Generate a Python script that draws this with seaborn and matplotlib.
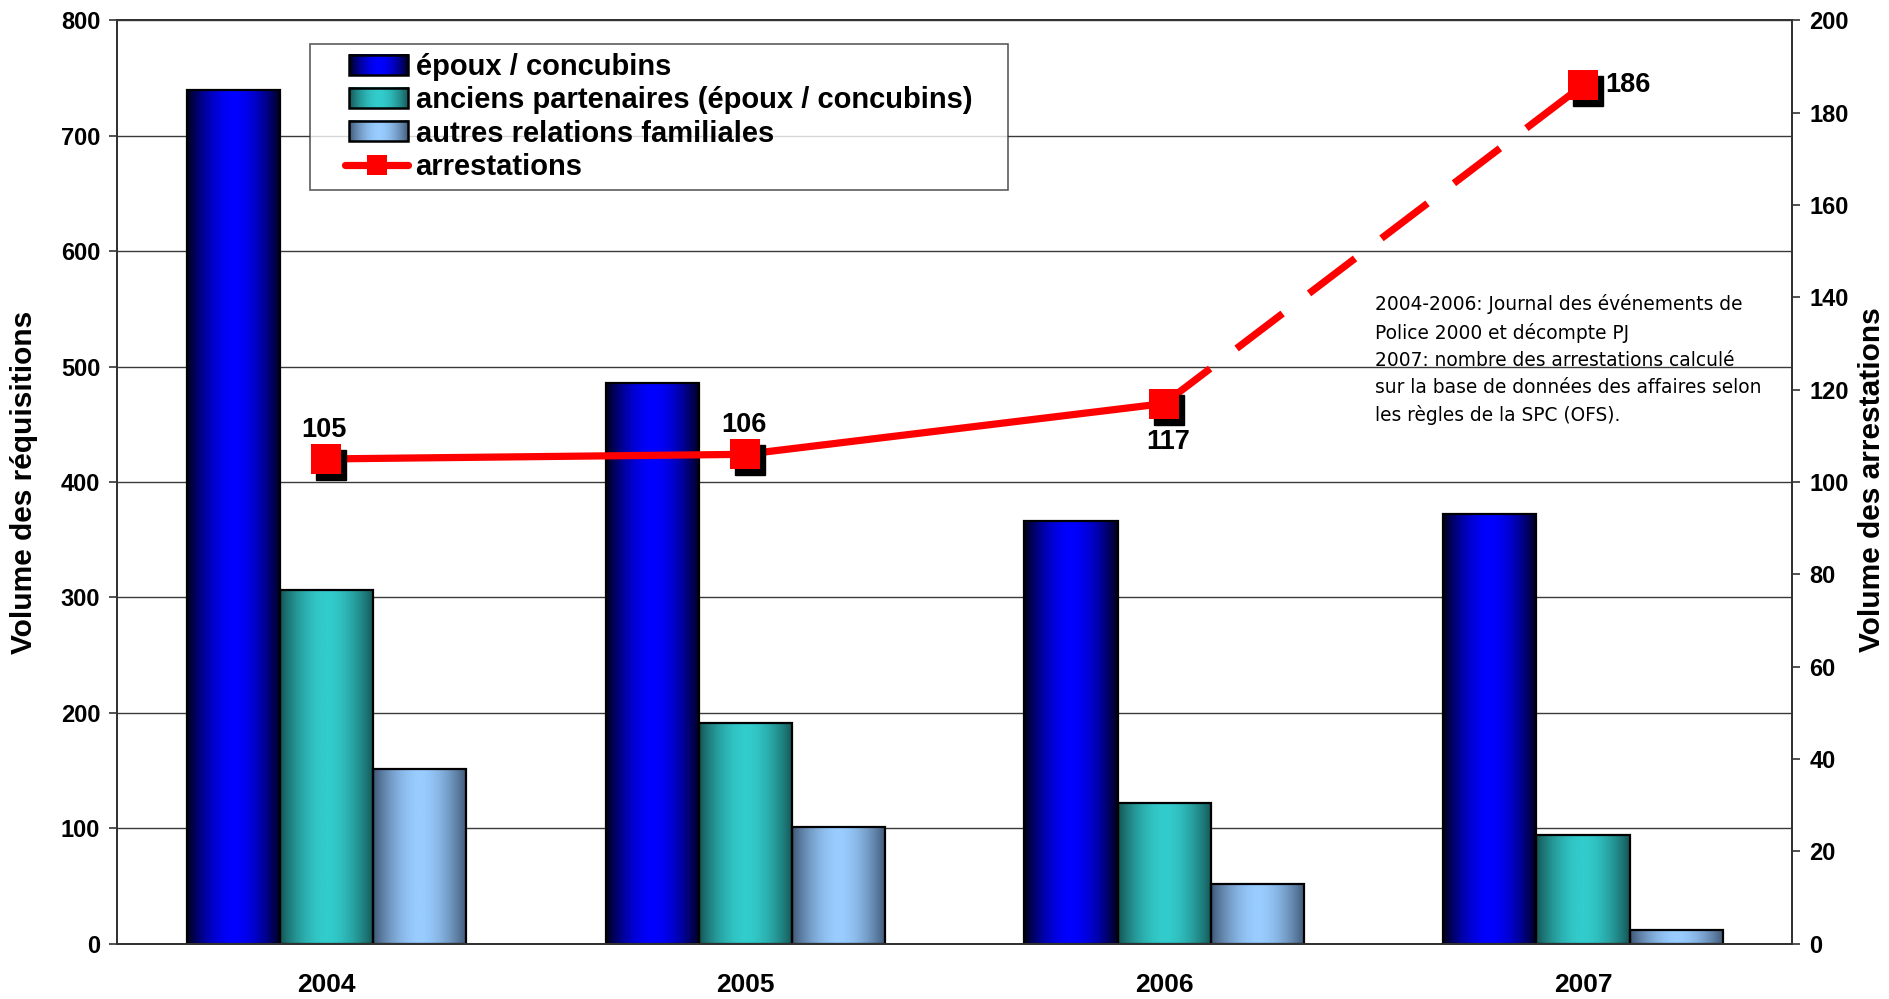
import numpy as np
import pandas as pd
import matplotlib
matplotlib.use("Agg")
import matplotlib.pyplot as plt
import seaborn as sns
from matplotlib.colors import LinearSegmentedColormap, Normalize
from matplotlib.lines import Line2D
from matplotlib.patches import Rectangle
from matplotlib.legend_handler import HandlerBase
from matplotlib.image import BboxImage
from matplotlib.transforms import Bbox, TransformedBbox, offset_copy

# ---------------- data ----------------
years = ["2004", "2005", "2006", "2007"]
series_names = ["époux / concubins",
                "anciens partenaires (époux / concubins)",
                "autres relations familiales"]
epoux = [740, 486, 366, 372]
anciens = [306, 191, 122, 94]
autres = [151, 101, 52, 12]
arrestations = [105, 106, 117, 186]
line_name = "arrestations"
left_label = "Volume des réquisitions"
right_label = "Volume des arrestations"
note_text = ("2004-2006: Journal des événements de\n"
             "Police 2000 et décompte PJ\n"
             "2007: nombre des arrestations calculé\n"
             "sur la base de données des affaires selon\n"
             "les règles de la SPC (OFS).")

# ---------------- style ----------------
sns.set_style("white")
plt.rcParams['font.family'] = ['Liberation Sans', 'DejaVu Sans']
plt.rcParams['font.weight'] = 'bold'
plt.rcParams['text.color'] = 'black'
plt.rcParams['axes.labelcolor'] = 'black'
plt.rcParams['xtick.color'] = 'black'
plt.rcParams['ytick.color'] = 'black'
plt.rcParams['xtick.labelcolor'] = 'black'
plt.rcParams['ytick.labelcolor'] = 'black'

dark_light = {
    series_names[0]: ("#000018", "#0000FF"),
    series_names[1]: ("#155555", "#33CCCC"),
    series_names[2]: ("#3F5775", "#99CCFF"),
}
cmaps = {k: LinearSegmentedColormap.from_list(k, v) for k, v in dark_light.items()}
palette = {k: v[1] for k, v in dark_light.items()}

t = np.linspace(0, 1, 256)
profile = 1 - np.abs(2 * t - 1) ** 1.8

df = pd.DataFrame({
    "year": years * 3,
    "series": [series_names[0]] * 4 + [series_names[1]] * 4 + [series_names[2]] * 4,
    "value": epoux + anciens + autres,
})

fig = plt.figure(figsize=(18.9, 9.99), dpi=100)
ax = fig.add_axes([0.0619, 0.0555, 0.8865, 0.924])

sns.barplot(data=df, x="year", y="value", hue="series", hue_order=series_names,
            palette=palette, saturation=1, width=0.667, gap=0, dodge=True,
            edgecolor="black", linewidth=1.6, legend=False, ax=ax, zorder=2)

# gradient fill for bars (Excel-like)
for name, cont in zip(series_names, ax.containers):
    for patch in cont.patches:
        x0, w = patch.get_x(), patch.get_width()
        y0, h = patch.get_y(), patch.get_height()
        im = ax.imshow(profile[np.newaxis, :], extent=[x0, x0 + w, y0, y0 + h],
                       aspect='auto', cmap=cmaps[name], vmin=0, vmax=1,
                       origin='lower', interpolation='bilinear', zorder=1.9)
        im.set_clip_path(patch)
        patch.set_facecolor('none')

ax.set_xlim(-0.5, 3.5)
ax.set_ylim(0, 800)
ax.set_yticks(np.arange(0, 801, 100))
ax.set_axisbelow(True)
ax.yaxis.grid(True, color="#3a3a3a", linewidth=1.0)
ax.xaxis.grid(False)
ax.set_xlabel("")
ax.set_ylabel("")
ax.set_xticks(range(len(years)))
ax.set_xticklabels(years)
ax.set_xticks(np.arange(-0.5, 3.6, 1.0), minor=True)
ax.tick_params(axis='x', which='major', length=0, pad=21, labelsize=19, labelcolor='black')
ax.tick_params(axis='x', which='minor', length=8, width=1.2, color='#333333', direction='out')
ax.tick_params(axis='y', which='major', length=6, width=1.2, color='#333333',
               direction='out', left=True, pad=6, labelsize=17, labelcolor='black')
for lab in ax.get_xticklabels() + ax.get_yticklabels():
    lab.set_fontweight('bold')
for s in ax.spines.values():
    s.set_color('#333333')
    s.set_linewidth(1.4)

# ---------------- line on secondary axis ----------------
ax2 = ax.twinx()
ax2.set_ylim(0, 200)
ax2.set_yticks(np.arange(0, 201, 20))
pos = list(range(len(years)))
lw = 5.2
sns.lineplot(x=pos[:3], y=arrestations[:3], color="#FF0000", linewidth=lw,
             ax=ax2, zorder=3, solid_capstyle='butt')
sns.lineplot(x=pos[2:], y=arrestations[2:], color="#FF0000", linewidth=lw,
             ax=ax2, zorder=3, dashes=False)
ax2.lines[-1].set_linestyle((0, (8, 4.6)))
ax2.lines[-1].set_dash_capstyle('butt')

shadow_tr = offset_copy(ax2.transData, fig=fig, x=5, y=-6, units='dots')
ax2.plot(pos, arrestations, linestyle='none', marker='s', markersize=21,
         color='black', transform=shadow_tr, zorder=4)
ax2.plot(pos, arrestations, linestyle='none', marker='s', markersize=21,
         color='#FF0000', markeredgewidth=0, zorder=5)

offsets = [((-2, 21), 'center', 'center'),
           ((-1, 21), 'center', 'center'),
           ((3, -28), 'center', 'center'),
           ((16, 0), 'left', 'center')]
for xi, yi, (off, ha, va) in zip(pos, arrestations, offsets):
    ax2.annotate(str(yi), (xi, yi), xytext=off, textcoords='offset points',
                 ha=ha, va=va, fontsize=19.5, fontweight='bold', color='black', zorder=6)

ax2.set_ylabel("")
ax2.tick_params(axis='y', length=6, width=1.2, color='#333333', direction='out',
                right=True, pad=6, labelsize=17, labelcolor='black')
for lab in ax2.get_yticklabels():
    lab.set_fontweight('bold')
ax2.grid(False)
for s in ax2.spines.values():
    s.set_color('#333333')
    s.set_linewidth(1.4)

# axis titles
fig.text(0.0127, 0.5175, left_label, rotation=90, ha='center', va='center',
         fontsize=21.5, fontweight='bold', color='black')
fig.text(0.9905, 0.520, right_label, rotation=90, ha='center', va='center',
         fontsize=21.5, fontweight='bold', color='black')

# ---------------- note ----------------
fig.text(0.7275, 0.7055, note_text, fontsize=13.4, fontweight='normal',
         family=['DejaVu Sans'], ha='left', va='top', linespacing=1.53, color='black')

# ---------------- legend ----------------
class GradHandler(HandlerBase):
    def __init__(self, cmap, frac):
        super().__init__()
        self.cmap = cmap
        self.frac = frac

    def create_artists(self, legend, orig_handle, xdescent, ydescent, width,
                       height, fontsize, trans):
        w = width * self.frac
        x0 = -xdescent + width - w
        bb = TransformedBbox(Bbox.from_bounds(x0, -ydescent, w, height), trans)
        im = BboxImage(bb, cmap=self.cmap, norm=Normalize(0, 1), interpolation='bilinear')
        im.set_data(profile[np.newaxis, :])
        rect = Rectangle((x0, -ydescent), w, height, facecolor='none',
                         edgecolor='black', linewidth=1.8, transform=trans)
        return [im, rect]


class LineMarkHandler(HandlerBase):
    def __init__(self, frac):
        super().__init__()
        self.frac = frac

    def create_artists(self, legend, orig_handle, xdescent, ydescent, width,
                       height, fontsize, trans):
        w = width * self.frac
        x0 = -xdescent + width - w
        yc = -ydescent + height / 2
        ln = Line2D([x0, x0 + w], [yc, yc], color=orig_handle.get_color(),
                    linewidth=orig_handle.get_linewidth(), solid_capstyle='round',
                    transform=trans)
        mk = Line2D([x0 + w / 2], [yc], linestyle='none', marker='s',
                    markersize=orig_handle.get_markersize(),
                    color=orig_handle.get_color(), markeredgewidth=0, transform=trans)
        return [ln, mk]


bar_handles = [Rectangle((0, 0), 1, 1, facecolor=palette[n]) for n in series_names]
line_handle = Line2D([], [], color='#FF0000', linewidth=lw, marker='s',
                     markersize=15, markeredgewidth=0)
handler_map = {h: GradHandler(cmaps[n], 0.665) for h, n in zip(bar_handles, series_names)}
handler_map[line_handle] = LineMarkHandler(0.70)
leg = fig.legend(bar_handles + [line_handle], series_names + [line_name],
                 handler_map=handler_map, loc='upper left',
                 bbox_to_anchor=(310 / 1890, 1 - 184 / 999, 698 / 1890, 140 / 999),
                 mode='expand', borderaxespad=0,
                 frameon=True, fancybox=False, edgecolor='#333333',
                 prop={'size': 21, 'weight': 'bold'},
                 handlelength=3.05, handleheight=0.68, handletextpad=0.27,
                 labelspacing=0.185, borderpad=0.3)
leg.get_frame().set_linewidth(1.2)
for txt in leg.get_texts():
    txt.set_fontweight('bold')
    txt.set_color('black')

fig.savefig("out.png", dpi=100)
